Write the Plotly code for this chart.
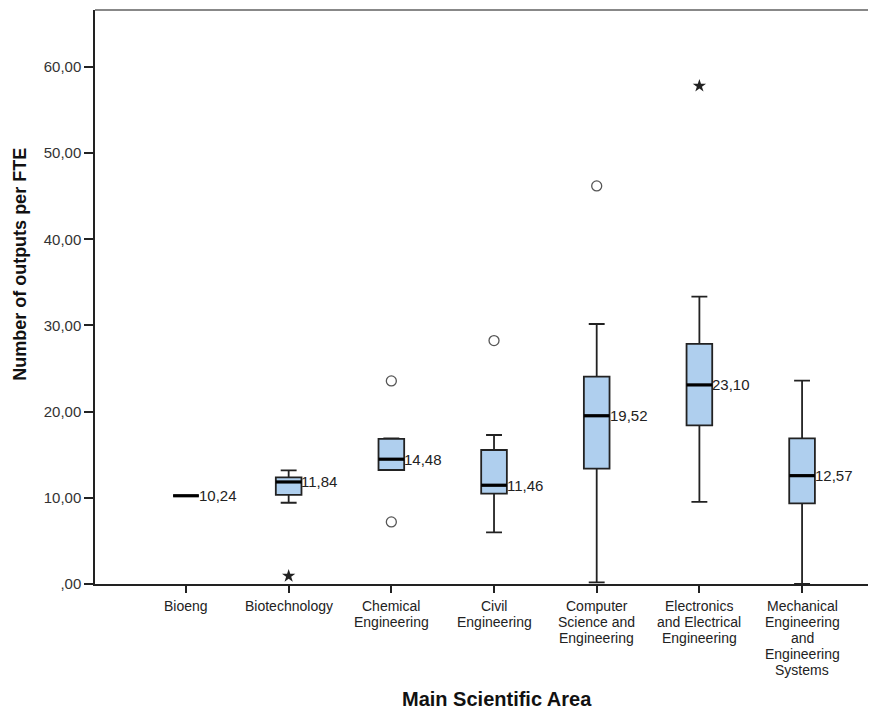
import plotly.graph_objects as go

categories = [["Bioeng"], ["Biotechnology"], ["Chemical", "Engineering"], ["Civil", "Engineering"],
              ["Computer", "Science and", "Engineering"],
              ["Electronics", "and Electrical", "Engineering"],
              ["Mechanical", "Engineering", "and", "Engineering", "Systems"]]
q1 = [10.24, 10.33, 13.23, 10.48, 13.38, 18.41, 9.36]
median = [10.24, 11.84, 14.48, 11.46, 19.52, 23.10, 12.57]
q3 = [10.24, 12.38, 16.83, 15.55, 24.06, 27.85, 16.90]
lower_whisker = [10.24, 9.43, 13.23, 6.00, 0.20, 9.52, 0.00]
upper_whisker = [10.24, 13.19, 16.90, 17.29, 30.17, 33.34, 23.60]
# outliers: (category index, value)
circle_x = [2, 2, 3, 4]
circle_y = [7.20, 23.56, 28.24, 46.19]
star_x = [1, 5]
star_y = [0.93, 57.79]

y_ticks = [0, 10, 20, 30, 40, 50, 60]
y_ticktext = [",00", "10,00", "20,00", "30,00", "40,00", "50,00", "60,00"]

BOX_W = 0.25
FILL = "#AFCFEE"
FONT = "Liberation Sans, Arial, sans-serif"

fig = go.Figure()
for i in range(len(categories)):
    fig.add_trace(go.Box(
        x=[i], q1=[q1[i]], median=[median[i]], q3=[q3[i]],
        lowerfence=[lower_whisker[i]], upperfence=[upper_whisker[i]],
        width=BOX_W, whiskerwidth=0.62, fillcolor=FILL,
        line=dict(color="#222222", width=1.8), boxpoints=False,
        showlegend=False, hoverinfo="skip"))
    fig.add_shape(type="line", xref="x", yref="y",
                  x0=i - BOX_W / 2, x1=i + BOX_W / 2, y0=median[i], y1=median[i],
                  line=dict(color="black", width=3.2))
    fig.add_annotation(x=i + BOX_W / 2, y=median[i], xref="x", yref="y",
                       text=f"{median[i]:.2f}".replace(".", ","), showarrow=False,
                       xanchor="left", yanchor="middle", xshift=-1, borderpad=0,
                       font=dict(family=FONT, size=15, color="#222222"))
    # category tick label, one line at a time (tight line spacing)
    for k, line in enumerate(categories[i]):
        fig.add_annotation(x=i, y=0, xref="x", yref="paper", text=line, showarrow=False,
                           xanchor="center", yanchor="middle", yshift=-22 - 16 * k, borderpad=0,
                           font=dict(family=FONT, size=14, color="#222222"))

fig.add_trace(go.Scatter(x=circle_x, y=circle_y, mode="markers", showlegend=False,
                         marker=dict(symbol="circle-open", size=10, color="#555555",
                                     line=dict(width=1.3, color="#555555")), hoverinfo="skip"))
fig.add_trace(go.Scatter(x=star_x, y=star_y, mode="markers", showlegend=False,
                         marker=dict(symbol="star", size=10, color="#222222"), hoverinfo="skip"))

# axis titles
fig.add_annotation(x=3, y=0, xref="x", yref="paper", text="<b>Main Scientific Area</b>",
                   showarrow=False, xanchor="center", yanchor="middle", yshift=-115, xshift=3,
                   borderpad=0, font=dict(family=FONT, size=20, color="#111111"))
fig.add_annotation(x=0, y=0.556, xref="paper", yref="paper", text="<b>Number of outputs per FTE</b>",
                   showarrow=False, textangle=-90, xanchor="center", yanchor="middle", xshift=-75,
                   borderpad=0, font=dict(family=FONT, size=18, color="#111111"))

# top frame line
fig.add_shape(type="line", xref="paper", yref="paper", x0=0, x1=1, y0=1, y1=1,
              line=dict(color="#888888", width=2))

# the page adds an 8px body margin, so the figure is sized to fill the rest of the window
fig.update_layout(
    width=868, height=704,
    margin=dict(l=87, r=0, t=2, b=128),
    paper_bgcolor="white", plot_bgcolor="white",
    font=dict(family=FONT, color="#222222"),
    xaxis=dict(
        range=[-0.886, 6.72], tickmode="array", tickvals=list(range(len(categories))),
        showticklabels=False, showgrid=False, zeroline=False, showline=True, automargin=False,
        linecolor="#222222", linewidth=1.5, ticks="outside", ticklen=7,
        tickcolor="#222222", tickwidth=1.5,
    ),
    yaxis=dict(
        range=[0, 66.6], tickmode="array", tickvals=y_ticks, ticktext=y_ticktext,
        showgrid=False, zeroline=False, showline=True, linecolor="#222222", linewidth=1.5,
        automargin=False, ticks="outside", ticklen=9, tickcolor="#222222", tickwidth=1.5,
        tickfont=dict(family=FONT, size=15, color="#333333"),
    ),
)

fig.write_html("out.html")
